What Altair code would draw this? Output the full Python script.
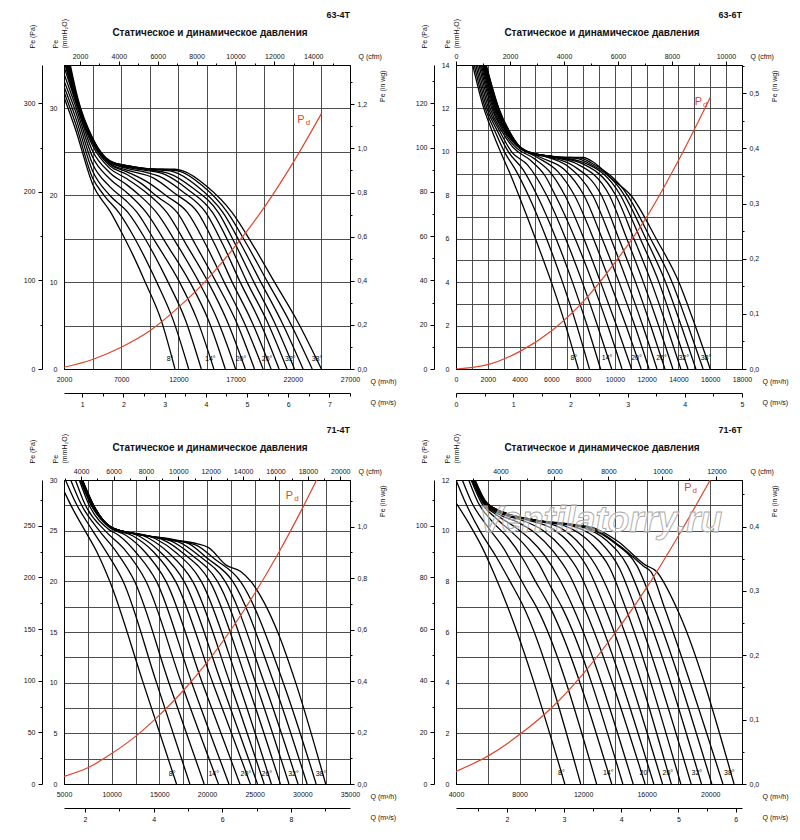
import altair as alt
import pandas as pd

FONT = "Liberation Sans"
RED = "#e0452c"
W, H = 286, 304
MM_PA = 9.80665      # Pa per mmH2O
MM_INWG = 25.4       # mmH2O per in wg
M3H_CFM = 1.699      # m3/h per cfm
M3H_M3S = 3600.0     # m3/h per m3/s

TITLE = "Статическое и динамическое давления"
ANGLES = [8, 10, 12, 14, 16, 18, 20, 22, 24, 26, 28, 30, 32, 34, 36, 38]
LABEL_TEXT = ["8°", "14°", "20°", "26°", "32°", "38°"]

# ---------------- 63-4T (Q m3/h, Pe mmH2O) ----------------
P1_CURVES = [
    [(2000, 31.3), (3000, 27.6), (4500, 21.3), (6100, 18.0), (7000, 15.8), (8000, 13.2), (9100, 10.0), (10500, 5.6), (11700, 0)],
    [(2000, 31.9), (3000, 28.3), (4500, 22.0), (5500, 20.0), (6800, 18.0), (8200, 15.0), (10100, 10.0), (11500, 5.8), (12900, 0)],
    [(2000, 32.5), (3000, 29.0), (4500, 22.8), (6000, 20.0), (7600, 18.0), (9000, 15.2), (11100, 10.0), (12600, 5.7), (14000, 0)],
    [(2000, 33.2), (3000, 29.7), (4500, 23.6), (6000, 21.0), (7400, 19.4), (8400, 18.0), (10000, 14.6), (12100, 10.0), (13600, 5.8), (15100, 0)],
    [(2000, 34.0), (3000, 30.3), (4500, 24.4), (6000, 21.9), (7500, 20.3), (9200, 18.0), (11000, 14.3), (13000, 10.0), (14600, 5.7), (16100, 0)],
    [(2000, 34.8), (3000, 30.8), (4500, 25.1), (6000, 22.6), (7500, 21.2), (8600, 20.0), (10100, 18.0), (11900, 14.3), (13800, 10.0), (15400, 5.7), (17000, 0)],
    [(2100, 35), (3000, 31.0), (4500, 25.7), (6000, 23.1), (7500, 21.9), (9200, 20.3), (11000, 18.0), (12700, 14.3), (14600, 10.0), (16200, 5.7), (17850, 0)],
    [(2150, 35), (3000, 31.1), (4500, 26.0), (6000, 23.4), (7500, 22.4), (8700, 21.4), (10200, 19.8), (11900, 18.0), (13500, 14.3), (15300, 10.0), (17000, 5.6), (18650, 0)],
    [(2200, 35), (3000, 31.2), (4500, 26.2), (6000, 23.6), (7500, 22.7), (9200, 21.6), (11000, 19.9), (12800, 18.0), (14400, 14.3), (16000, 10.0), (17700, 5.5), (19400, 0)],
    [(2250, 35), (3000, 31.3), (4500, 26.3), (6000, 23.7), (7500, 22.9), (9800, 22.0), (11700, 20.2), (13700, 18.0), (15200, 14.3), (16700, 10.0), (18400, 5.5), (20100, 0)],
    [(2300, 35), (3000, 31.4), (4500, 26.4), (6000, 23.8), (7500, 23.1), (9000, 22.7), (10300, 22.2), (12300, 20.5), (14400, 18.0), (15900, 14.3), (17400, 10.0), (19100, 5.5), (20800, 0)],
    [(2350, 35), (3000, 31.5), (4500, 26.4), (6000, 23.8), (7500, 23.2), (9000, 22.9), (10800, 22.4), (12800, 20.7), (15000, 18.0), (16500, 14.3), (18000, 10.0), (19750, 5.5), (21500, 0)],
    [(2400, 35), (3100, 31.2), (4500, 26.4), (6000, 23.9), (7500, 23.3), (9000, 23.0), (11200, 22.5), (13200, 20.9), (15500, 18.0), (17000, 14.3), (18600, 10.0), (20350, 5.5), (22150, 0)],
    [(2450, 35), (3100, 31.3), (4500, 26.5), (6000, 23.9), (7500, 23.4), (9000, 23.1), (10500, 22.9), (11600, 22.7), (13600, 21.1), (15900, 18.0), (17500, 14.3), (19200, 10.0), (21000, 5.5), (22900, 0)],
    [(2500, 35), (3100, 31.4), (4500, 26.5), (6000, 23.9), (7500, 23.4), (9000, 23.1), (10500, 23.0), (12000, 22.8), (14000, 21.2), (16300, 18.0), (18000, 14.3), (19800, 10.0), (21700, 5.5), (23700, 0)],
    [(2550, 35), (3200, 31.2), (4500, 26.6), (6000, 24.0), (7500, 23.4), (9000, 23.1), (10500, 23.0), (11700, 23.0), (12400, 22.8), (14500, 21.0), (16700, 18.0), (18500, 14.3), (20400, 10.0), (22400, 5.5), (24500, 0)],
]
P1_PD = [(2000, 0.2), (4500, 1.1), (7000, 2.5), (9500, 4.4), (12000, 7.1), (14500, 10.3), (17000, 14.2), (19500, 18.6), (22000, 23.7), (24500, 29.4)]
P1_LABEL_Q = [11270, 14790, 17470, 19750, 21780, 24110]
P1_LABEL_P = [1.1, 1.1, 1.1, 1.1, 1.1, 1.1]
P1_PD_LABEL = (22710, 28.7)
P1_Q_TICKS = [2000, 4500, 7000, 9500, 12000, 14500, 17000, 19500, 22000, 24500, 27000]
P1_MM_TICKS = [0, 5, 10, 15, 20, 25, 30, 35]
P1_PA_TICKS = [0, 50, 100, 150, 200, 250, 300]
P1_WG_TICKS = [0.0, 0.1, 0.2, 0.3, 0.4, 0.5, 0.6, 0.7, 0.8, 0.9, 1.0, 1.1, 1.2, 1.3]
P1_CFM_TICKS = [2000, 3000, 4000, 5000, 6000, 7000, 8000, 9000, 10000, 11000, 12000, 13000, 14000, 15000]
P1_S_TICKS = [1.0, 1.5, 2.0, 2.5, 3.0, 3.5, 4.0, 4.5, 5.0, 5.5, 6.0, 6.5, 7.0, 7.5]

# ---------------- 63-6T ----------------
P2_CURVES = [
    [(1050, 14), (1750, 12), (2250, 11), (2800, 10), (3400, 9.0), (3950, 8), (5000, 6), (6000, 4), (6900, 2), (7700, 0)],
    [(1150, 14), (1850, 12), (2420, 11), (3050, 10), (3800, 9.1), (4550, 8), (5700, 6), (6700, 4), (7600, 2), (8400, 0)],
    [(1250, 14), (1950, 12), (2580, 11), (3300, 10), (4200, 9.2), (5100, 8), (6300, 6), (7330, 4), (8250, 2), (9100, 0)],
    [(1350, 14), (2050, 12), (2720, 11), (3500, 10), (4500, 9.4), (5700, 8), (6900, 6), (7950, 4), (8900, 2), (9800, 0)],
    [(1450, 14), (2150, 12), (2840, 11), (3600, 10.2), (4700, 9.6), (5600, 8.9), (6250, 8), (7500, 6), (8580, 4), (9550, 2), (10450, 0)],
    [(1530, 14), (2250, 12), (2950, 11), (3700, 10.25), (4900, 9.7), (6000, 9.0), (6850, 8), (8050, 6), (9100, 4), (10100, 2), (11050, 0)],
    [(1600, 14), (2330, 12), (3030, 11), (3780, 10.3), (5100, 9.75), (6400, 9.1), (7450, 8), (8650, 6), (9690, 4), (10700, 2), (11650, 0)],
    [(1660, 14), (2400, 12), (3100, 11), (3830, 10.3), (5300, 9.75), (6800, 9.2), (8050, 8), (9200, 6), (10260, 4), (11250, 2), (12150, 0)],
    [(1710, 14), (2460, 12), (3150, 11), (3860, 10.3), (4600, 9.95), (5500, 9.8), (7100, 9.3), (8600, 8), (9750, 6), (10780, 4), (11750, 2), (12650, 0)],
    [(1750, 14), (2510, 12), (3190, 11), (3880, 10.3), (4650, 9.95), (5700, 9.78), (7400, 9.35), (9150, 8), (10250, 6), (11300, 4), (12250, 2), (13150, 0)],
    [(1790, 14), (2550, 12), (3220, 11), (3890, 10.3), (4680, 9.95), (5900, 9.78), (7600, 9.45), (9650, 8), (10750, 6), (11790, 4), (12750, 2), (13650, 0)],
    [(1820, 14), (2590, 12), (3240, 11), (3900, 10.3), (4700, 9.95), (6100, 9.78), (7800, 9.5), (10050, 8), (11200, 6), (12290, 4), (13250, 2), (14150, 0)],
    [(1850, 14), (2620, 12), (3260, 11), (3910, 10.3), (4720, 9.95), (6300, 9.76), (8000, 9.52), (10350, 8), (11600, 6), (12770, 4), (13700, 2), (14600, 0)],
    [(1870, 14), (2650, 12), (3280, 11), (3920, 10.3), (4740, 9.95), (6400, 9.76), (7600, 9.7), (8300, 9.5), (10600, 8), (11950, 6), (13190, 4), (14170, 2), (15100, 0)],
    [(1890, 14), (2680, 12), (3300, 11), (3930, 10.3), (4760, 9.95), (6500, 9.76), (7800, 9.72), (8500, 9.5), (10800, 8), (12250, 6), (13600, 4), (14600, 2), (15550, 0)],
    [(1900, 14), (2700, 12), (3320, 11), (3940, 10.3), (4780, 9.95), (6600, 9.76), (8000, 9.74), (8700, 9.5), (9900, 8.7), (11000, 8), (12600, 6), (14030, 4), (15050, 2), (16000, 0)],
]
P2_PD = [(0, 0), (2000, 0.2), (4000, 0.8), (6000, 1.75), (8000, 3.1), (10000, 4.9), (12000, 7.0), (14000, 9.6), (16000, 12.5)]
P2_LABEL_Q = [7420, 9510, 11360, 12930, 14330, 15730]
P2_LABEL_P = [0.5, 0.5, 0.5, 0.5, 0.5, 0.5]
P2_PD_LABEL = (15250, 12.3)
P2_Q_TICKS = [0, 1000, 2000, 3000, 4000, 5000, 6000, 7000, 8000, 9000, 10000, 11000, 12000, 13000, 14000, 15000, 16000, 17000, 18000]
P2_MM_TICKS = [0, 1, 2, 3, 4, 5, 6, 7, 8, 9, 10, 11, 12, 13, 14]
P2_PA_TICKS = [0, 10, 20, 30, 40, 50, 60, 70, 80, 90, 100, 110, 120, 130]
P2_WG_TICKS = [0.0, 0.05, 0.1, 0.15, 0.2, 0.25, 0.3, 0.35, 0.4, 0.45, 0.5, 0.55]
P2_CFM_TICKS = [0, 1000, 2000, 3000, 4000, 5000, 6000, 7000, 8000, 9000, 10000]
P2_S_TICKS = [0.0, 0.5, 1.0, 1.5, 2.0, 2.5, 3.0, 3.5, 4.0, 4.5, 5.0]

# ---------------- 71-4T ----------------
P3_CURVES = [
    [(5000, 28.9), (6000, 27.0), (7200, 25.0), (8500, 22.8), (9800, 20.0), (13300, 10.0), (16800, 0)],
    [(5150, 30), (6200, 27.8), (8000, 25.0), (9500, 22.8), (11200, 20.0), (14700, 10.0), (18200, 0)],
    [(5700, 30), (6800, 27.6), (8700, 25.0), (10500, 22.9), (12400, 20.0), (16000, 10.0), (19700, 0)],
    [(6200, 30), (7200, 27.6), (9300, 25.0), (11300, 23.2), (13600, 20.0), (17300, 10.0), (21200, 0)],
    [(6600, 30), (7600, 27.6), (9600, 25.2), (10800, 24.5), (12600, 22.8), (14700, 20.0), (18400, 10.0), (22300, 0)],
    [(6700, 30), (7800, 27.6), (9800, 25.3), (11400, 24.6), (13500, 22.9), (15700, 20.0), (19500, 10.0), (23450, 0)],
    [(6750, 30), (7900, 27.5), (9900, 25.3), (12200, 24.5), (14400, 22.9), (16700, 20.0), (20600, 10.0), (24550, 0)],
    [(6800, 30), (8000, 27.5), (10000, 25.3), (13000, 24.4), (15200, 22.8), (17600, 20.0), (21500, 10.0), (25300, 0)],
    [(6830, 30), (8050, 27.4), (10000, 25.3), (13800, 24.3), (16000, 22.8), (18500, 20.0), (22400, 10.0), (26000, 0)],
    [(6860, 30), (8100, 27.4), (10000, 25.3), (14600, 24.2), (16800, 22.8), (19400, 20.0), (23300, 10.0), (26750, 0)],
    [(6880, 30), (8100, 27.4), (10000, 25.3), (13000, 24.6), (15400, 24.1), (17600, 22.7), (20300, 20.0), (24200, 10.0), (27700, 0)],
    [(6900, 30), (8120, 27.4), (10000, 25.3), (13000, 24.6), (16200, 24.0), (18400, 22.6), (21100, 20.0), (25100, 10.0), (28600, 0)],
    [(6910, 30), (8140, 27.4), (10000, 25.3), (13000, 24.6), (17000, 23.9), (19200, 22.5), (21900, 20.0), (26000, 10.0), (29550, 0)],
    [(6920, 30), (8150, 27.4), (10000, 25.3), (13000, 24.6), (17900, 23.8), (20000, 22.3), (22700, 20.0), (27000, 10.0), (30500, 0)],
    [(6930, 30), (8160, 27.4), (10000, 25.3), (13000, 24.6), (16000, 24.1), (18800, 23.6), (20800, 22.2), (23500, 20.0), (28000, 10.0), (31450, 0)],
    [(6940, 30), (8170, 27.4), (10000, 25.3), (13000, 24.6), (16000, 24.1), (19000, 23.7), (20200, 23.3), (22000, 21.6), (23500, 21.0), (24600, 20.0), (26000, 17.9), (27500, 14.8), (29300, 10.0), (32450, 0)],
]
P3_PD = [(5000, 0.75), (7500, 1.6), (10000, 3.0), (12500, 4.7), (15000, 6.8), (17500, 9.2), (20000, 12.0), (22500, 15.2), (25000, 18.8), (27500, 22.8), (30000, 27.2), (31500, 30.0)]
P3_LABEL_Q = [16340, 20700, 24080, 26280, 29070, 31960]
P3_LABEL_P = [1.0, 1.0, 1.0, 1.0, 1.0, 1.0]
P3_PD_LABEL = (28650, 28.4)
P3_Q_TICKS = [5000, 7500, 10000, 12500, 15000, 17500, 20000, 22500, 25000, 27500, 30000, 32500, 35000]
P3_MM_TICKS = [0, 2.5, 5, 7.5, 10, 12.5, 15, 17.5, 20, 22.5, 25, 27.5, 30]
P3_PA_TICKS = [0, 25, 50, 75, 100, 125, 150, 175, 200, 225, 250, 275]
P3_WG_TICKS = [0.0, 0.1, 0.2, 0.3, 0.4, 0.5, 0.6, 0.7, 0.8, 0.9, 1.0, 1.1]
P3_CFM_TICKS = [3000, 4000, 5000, 6000, 7000, 8000, 9000, 10000, 11000, 12000, 13000, 14000, 15000, 16000, 17000, 18000, 19000, 20000]
P3_S_TICKS = [2, 3, 4, 5, 6, 7, 8, 9]

# ---------------- 71-6T ----------------
P4_CURVES = [
    [(4000, 11.1), (4800, 10.3), (5600, 9.4), (6400, 8.3), (7250, 7.0), (10850, 0)],
    [(4000, 12), (4600, 11.1), (5500, 10.0), (6500, 9.0), (7400, 8.0), (8250, 7.0), (11850, 0)],
    [(4400, 12), (5000, 11.1), (6000, 10.15), (7000, 9.3), (7800, 8.4), (8500, 7.6), (9050, 7.0), (12850, 0)],
    [(4800, 12), (5400, 11.1), (6300, 10.35), (7300, 9.7), (8200, 8.9), (9000, 8.0), (9900, 7.0), (13800, 0)],
    [(4950, 12), (5600, 11.1), (6500, 10.5), (7500, 9.95), (8300, 9.45), (9200, 8.7), (9950, 7.8), (10650, 7.0), (14500, 0)],
    [(5000, 12), (5700, 11.1), (6600, 10.6), (7700, 10.15), (8600, 9.7), (9600, 9.0), (10500, 8.1), (11350, 7.0), (15150, 0)],
    [(5050, 12), (5750, 11.1), (6700, 10.65), (8000, 10.3), (9000, 9.9), (10100, 9.2), (11100, 8.3), (12050, 7.0), (15900, 0)],
    [(5080, 12), (5800, 11.1), (6800, 10.68), (8200, 10.4), (9500, 10.0), (10700, 9.3), (11800, 8.3), (12700, 7.0), (16450, 0)],
    [(5100, 12), (5820, 11.1), (6850, 10.7), (8500, 10.42), (10000, 10.1), (11300, 9.4), (12400, 8.4), (13350, 7.0), (17000, 0)],
    [(5120, 12), (5840, 11.1), (6900, 10.7), (9000, 10.4), (10600, 10.1), (11900, 9.4), (13000, 8.4), (14000, 7.0), (17550, 0)],
    [(5140, 12), (5860, 11.1), (6950, 10.72), (9000, 10.4), (11000, 10.15), (12500, 9.5), (13700, 8.5), (14650, 7.0), (18150, 0)],
    [(5150, 12), (5880, 11.1), (7000, 10.72), (9000, 10.42), (11500, 10.15), (13000, 9.6), (14300, 8.5), (15250, 7.0), (18800, 0)],
    [(5160, 12), (5900, 11.1), (7000, 10.72), (9000, 10.42), (12000, 10.12), (13500, 9.6), (14800, 8.6), (15850, 7.0), (19450, 0)],
    [(5170, 12), (5910, 11.1), (7000, 10.72), (9000, 10.42), (12300, 10.1), (14000, 9.5), (15400, 8.6), (16450, 7.0), (20100, 0)],
    [(5180, 12), (5920, 11.1), (7000, 10.72), (9000, 10.42), (12600, 10.08), (14300, 9.4), (15800, 8.6), (16300, 8.35), (17100, 7.0), (20800, 0)],
    [(5200, 12), (5940, 11.1), (7000, 10.72), (9000, 10.42), (11300, 10.25), (12700, 10.1), (14200, 9.57), (15900, 8.65), (16600, 8.4), (17850, 7.0), (21500, 0)],
]
P4_PD = [(4000, 0.5), (6000, 1.1), (8000, 1.95), (10000, 3.0), (12000, 4.35), (14000, 5.95), (16000, 7.75), (18000, 9.8), (20000, 12.0)]
P4_LABEL_Q = [10630, 13580, 15890, 17330, 19160, 21200]
P4_LABEL_P = [0.45, 0.45, 0.45, 0.45, 0.45, 0.45]
P4_PD_LABEL = (18590, 11.7)
P4_WATERMARK = ("Ventilatorry.ru", 13100, 10.4)
P4_Q_TICKS = [4000, 6000, 8000, 10000, 12000, 14000, 16000, 18000, 20000, 22000]
P4_MM_TICKS = [0, 1, 2, 3, 4, 5, 6, 7, 8, 9, 10, 11, 12]
P4_PA_TICKS = [0, 10, 20, 30, 40, 50, 60, 70, 80, 90, 100, 110]
P4_WG_TICKS = [0.0, 0.05, 0.1, 0.15, 0.2, 0.25, 0.3, 0.35, 0.4, 0.45]
P4_CFM_TICKS = [3000, 4000, 5000, 6000, 7000, 8000, 9000, 10000, 11000, 12000]
P4_S_TICKS = [1.5, 2.0, 2.5, 3.0, 3.5, 4.0, 4.5, 5.0, 5.5, 6.0]

INT = "format(datum.value, 'd')"
COMMA = "replace(format(datum.value, '.1f'), '.', ',')"


def lab_test(base, step):
    return (f"abs((datum.value - ({base})) / {step} - "
            f"round((datum.value - ({base})) / {step})) < 0.001")


def axis(ticks, base, step, fmt, major=4, minor=2, show_ticks=True, **kw):
    test = lab_test(base, step)
    extra = {}
    if show_ticks:
        extra["tickSize"] = {"condition": {"test": test, "value": major}, "value": minor}
    else:
        extra["ticks"] = False
    return alt.Axis(values=ticks, labelExpr=f"({test}) ? {fmt} : ''",
                    labelFlush=False, labelOverlap=False, **extra, **kw)


def panel(name, curves, pdc, lab_q, lab_p, pdlab, qdom, mmtop,
          q_ticks, q_base, q_step, mm_ticks, mm_step, pa_ticks, pa_step,
          wg_ticks, wg_step, cfm_ticks, cfm_base, cfm_step, s_ticks, s_base, s_step,
          watermark=None):
    rows = []
    for a, pts in zip(ANGLES, curves):
        for k, (q, p) in enumerate(pts):
            rows.append({"angle": a, "k": k, "Q": q, "P": p})
    df = pd.DataFrame(rows)
    xs = alt.Scale(domain=list(qdom), nice=False, zero=False)
    ys = alt.Scale(domain=[0, mmtop], nice=False, zero=False)

    x_main = axis(q_ticks, q_base, q_step, INT, show_ticks=False, orient="bottom",
                  grid=True, labelPadding=6, title="Q (m³/h)", titleX=W + 20,
                  titleY=12, titleAlign="left", titleBaseline="middle", titleAngle=0)
    y_main = axis(mm_ticks, 0, mm_step, INT, show_ticks=False, orient="left",
                  grid=True, labelPadding=7, title=["Pe", "(mmH₂O)"],
                  titleAngle=-90, titleX=-9, titleY=-17, titleAlign="left",
                  titleBaseline="middle", titleLineHeight=9)

    curves_l = alt.Chart(df).mark_line(color="black", strokeWidth=1.3,
                                       interpolate="monotone", clip=True).encode(
        x=alt.X("Q:Q", scale=xs, axis=x_main),
        y=alt.Y("P:Q", scale=ys, axis=y_main),
        detail="angle:N", order="k:Q")

    pdf = pd.DataFrame({"Q": [q for q, _ in pdc], "P": [p for _, p in pdc]})
    pd_l = alt.Chart(pdf).mark_line(color=RED, strokeWidth=1.2,
                                    interpolate="monotone", clip=True).encode(
        x=alt.X("Q:Q", scale=xs, axis=None), y=alt.Y("P:Q", scale=ys, axis=None))

    ldf = pd.DataFrame({"Q": lab_q, "P": lab_p, "t": LABEL_TEXT})
    lab_l = alt.Chart(ldf).mark_text(font=FONT, fontSize=7, color="black",
                                     baseline="middle").encode(
        x=alt.X("Q:Q", scale=xs, axis=None), y=alt.Y("P:Q", scale=ys, axis=None),
        text="t:N")

    pdl = pd.DataFrame({"Q": [pdlab[0]], "P": [pdlab[1]], "t": ["P"], "s": ["d"]})
    pdP = alt.Chart(pdl).mark_text(font=FONT, fontSize=11, color=RED,
                                   baseline="middle").encode(
        x=alt.X("Q:Q", scale=xs, axis=None), y=alt.Y("P:Q", scale=ys, axis=None),
        text="t:N")
    pdd = alt.Chart(pdl).mark_text(font=FONT, fontSize=8, color=RED,
                                   baseline="middle", dx=7, dy=3).encode(
        x=alt.X("Q:Q", scale=xs, axis=None), y=alt.Y("P:Q", scale=ys, axis=None),
        text="s:N")

    head = pd.DataFrame({"t": [TITLE], "n": [name]})
    title_l = alt.Chart(head).mark_text(font=FONT, fontSize=10, fontWeight="bold",
                                        color="#111", align="center",
                                        baseline="middle").encode(
        text="t:N", x=alt.value(W / 2 + 3), y=alt.value(-32))
    name_l = alt.Chart(head).mark_text(font=FONT, fontSize=9, fontWeight="bold",
                                       color="#111", align="right",
                                       baseline="middle").encode(
        text="n:N", x=alt.value(W), y=alt.value(-50))

    # secondary scales: cfm (top) + Pa (outer left)
    d1 = pd.DataFrame({"cfm": [qdom[0] / M3H_CFM, qdom[1] / M3H_CFM],
                       "pa": [0, mmtop * MM_PA]})
    sec1 = alt.Chart(d1).mark_point(opacity=0).encode(
        x=alt.X("cfm:Q", scale=alt.Scale(domain=[qdom[0] / M3H_CFM, qdom[1] / M3H_CFM],
                                         nice=False, zero=False),
                axis=axis(cfm_ticks, cfm_base, cfm_step, INT, major=4, minor=2,
                          orient="top", grid=False, labelPadding=2, title="Q (cfm)",
                          titleX=W + 8, titleY=-9, titleAlign="left",
                          titleBaseline="middle", titleAngle=0)),
        y=alt.Y("pa:Q", scale=alt.Scale(domain=[0, mmtop * MM_PA], nice=False, zero=False),
                axis=axis(pa_ticks, 0, pa_step, INT, major=4, minor=2, orient="left",
                          offset=22, grid=False, labelPadding=3, title="Pe (Pa)",
                          titleAngle=-90, titleX=-10, titleY=-17, titleAlign="left",
                          titleBaseline="middle")))

    # secondary scales: m3/s (outer bottom) + in wg (right)
    d2 = pd.DataFrame({"s": [qdom[0] / M3H_M3S, qdom[1] / M3H_M3S],
                       "wg": [0, mmtop / MM_INWG]})
    sec2 = alt.Chart(d2).mark_point(opacity=0).encode(
        x=alt.X("s:Q", scale=alt.Scale(domain=[qdom[0] / M3H_M3S, qdom[1] / M3H_M3S],
                                       nice=False, zero=False),
                axis=axis(s_ticks, s_base, s_step, INT, major=4, minor=3,
                          orient="bottom", offset=24, grid=False, labelPadding=3,
                          title="Q (m³/s)", titleX=W + 20, titleY=9, titleAlign="left",
                          titleBaseline="middle", titleAngle=0)),
        y=alt.Y("wg:Q", scale=alt.Scale(domain=[0, mmtop / MM_INWG], nice=False, zero=False),
                axis=axis(wg_ticks, 0, wg_step, COMMA, major=4, minor=2,
                          orient="right", grid=False, labelPadding=3,
                          title="Pe (in wg)", titleAngle=-90, titleX=32, titleY=5,
                          titleAlign="right", titleBaseline="middle")))

    layers = [curves_l, pd_l, lab_l, pdP, pdd, title_l, name_l]
    if watermark is not None:
        wdf = pd.DataFrame({"t": [watermark[0]], "Q": [watermark[1]], "P": [watermark[2]]})
        layers.append(alt.Chart(wdf).mark_text(
            font=FONT, fontSize=36, fontStyle="italic", fontWeight="bold",
            fill="white", fillOpacity=0.45, stroke="#a8a8a8", strokeWidth=0.9,
            baseline="middle").encode(
            x=alt.X("Q:Q", scale=xs, axis=None), y=alt.Y("P:Q", scale=ys, axis=None),
            text="t:N"))
    layers += [sec1, sec2]
    return alt.layer(*layers).resolve_scale(x="independent", y="independent").properties(
        width=W, height=H)


p1 = panel("63-4T", P1_CURVES, P1_PD, P1_LABEL_Q, P1_LABEL_P, P1_PD_LABEL, (2000, 27000), 35,
           P1_Q_TICKS, 2000, 5000, P1_MM_TICKS, 10, P1_PA_TICKS, 100,
           P1_WG_TICKS, 0.2, P1_CFM_TICKS, 0, 2000, P1_S_TICKS, 0, 1)
p2 = panel("63-6T", P2_CURVES, P2_PD, P2_LABEL_Q, P2_LABEL_P, P2_PD_LABEL, (0, 18000), 14,
           P2_Q_TICKS, 0, 2000, P2_MM_TICKS, 2, P2_PA_TICKS, 20,
           P2_WG_TICKS, 0.1, P2_CFM_TICKS, 0, 2000, P2_S_TICKS, 0, 1)
p3 = panel("71-4T", P3_CURVES, P3_PD, P3_LABEL_Q, P3_LABEL_P, P3_PD_LABEL, (5000, 35000), 30,
           P3_Q_TICKS, 5000, 5000, P3_MM_TICKS, 5, P3_PA_TICKS, 50,
           P3_WG_TICKS, 0.2, P3_CFM_TICKS, 0, 2000, P3_S_TICKS, 0, 2)
p4 = panel("71-6T", P4_CURVES, P4_PD, P4_LABEL_Q, P4_LABEL_P, P4_PD_LABEL, (4000, 22000), 12,
           P4_Q_TICKS, 4000, 4000, P4_MM_TICKS, 2, P4_PA_TICKS, 20,
           P4_WG_TICKS, 0.1, P4_CFM_TICKS, 0, 2000, P4_S_TICKS, 0, 1,
           watermark=P4_WATERMARK)

chart = alt.vconcat(
    alt.hconcat(p1, p2, spacing=17),
    alt.hconcat(p3, p4, spacing=17),
    spacing=17,
).properties(
    padding={"left": 14, "top": 2, "right": 2, "bottom": 2}
).configure_view(stroke="black", strokeWidth=1).configure_axis(
    labelFont=FONT, titleFont=FONT, labelFontSize=7, titleFontSize=7,
    titleFontWeight="normal", labelColor="#111", titleColor="#111",
    domainColor="black", tickColor="black", gridColor="#3a3a3a", gridWidth=0.9,
    domainWidth=1)

chart.save("out.html", embed_options={"renderer": "svg", "actions": False})
